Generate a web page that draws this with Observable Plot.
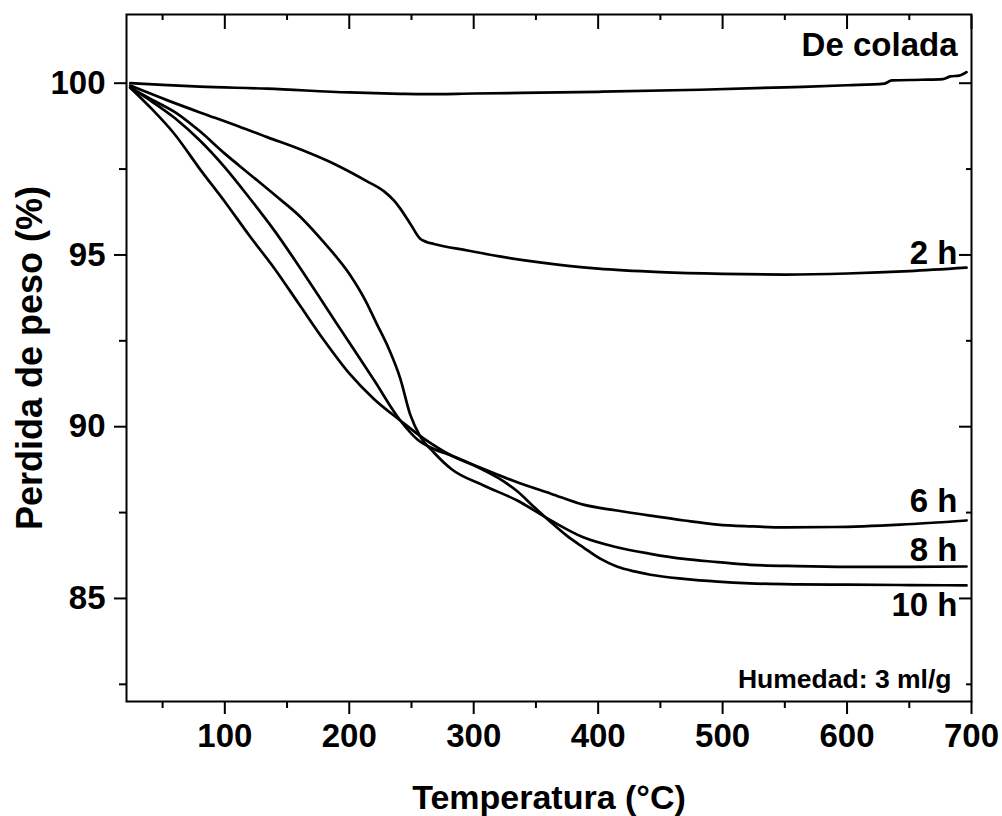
<!DOCTYPE html>
<html>
<head>
<meta charset="utf-8">
<script src="https://cdn.jsdelivr.net/npm/d3@7"></script>
<script src="https://cdn.jsdelivr.net/npm/@observablehq/plot@0.6"></script>
<style>
  html, body { margin: 0; padding: 0; background: #fff; }
  svg { display: block; }
</style>
</head>
<body>
<div id="chart"></div>
<script>
// ---- data (temperature °C, weight %) ----
const tCast = [24, 50, 80, 134, 200, 241, 260, 300, 400, 482, 550, 600, 630, 636, 660, 677, 683, 690, 696];
const wCast = [100.0, 99.95, 99.9, 99.84, 99.73, 99.69, 99.68, 99.7, 99.75, 99.81, 99.88, 99.94, 99.99, 100.08, 100.1, 100.12, 100.2, 100.22, 100.32];

const t2h = [24, 54, 80, 107, 134, 161, 188, 214, 228, 236, 241, 249, 257, 262, 268, 295, 322, 350, 400, 450, 500, 550, 600, 650, 696];
const w2h = [99.93, 99.5, 99.15, 98.8, 98.43, 98.07, 97.65, 97.15, 96.85, 96.58, 96.35, 95.91, 95.47, 95.38, 95.32, 95.13, 94.95, 94.8, 94.6, 94.5, 94.45, 94.43, 94.46, 94.53, 94.63];

const t6h = [24, 40, 60, 80, 100, 120, 140, 160, 180, 200, 220, 241, 260, 282, 308, 335, 362, 388, 415, 442, 469, 496, 522, 550, 590, 643, 696];
const w6h = [99.87, 99.3, 98.5, 97.5, 96.55, 95.55, 94.6, 93.55, 92.5, 91.55, 90.8, 90.18, 89.65, 89.16, 88.77, 88.38, 88.05, 87.73, 87.56, 87.41, 87.27, 87.15, 87.1, 87.07, 87.08, 87.15, 87.27];

const t8h = [24, 40, 62, 80, 100, 120, 140, 161, 180, 200, 213, 222, 232, 241, 249, 257, 268, 282, 308, 335, 362, 388, 415, 442, 469, 496, 522, 560, 600, 650, 696];
const w8h = [99.87, 99.55, 99.11, 98.6, 97.95, 97.35, 96.75, 96.1, 95.35, 94.45, 93.67, 93.0, 92.25, 91.4, 90.35, 89.72, 89.25, 88.77, 88.29, 87.85, 87.27, 86.78, 86.49, 86.3, 86.15, 86.06, 85.98, 85.94, 85.92, 85.92, 85.93];

const t10h = [24, 40, 60, 80, 100, 120, 140, 160, 180, 200, 220, 241, 255, 268, 282, 300, 320, 335, 348, 362, 375, 388, 402, 415, 430, 442, 469, 496, 522, 560, 600, 650, 696];
const w10h = [99.87, 99.5, 98.98, 98.33, 97.55, 96.65, 95.7, 94.65, 93.55, 92.45, 91.35, 90.18, 89.62, 89.35, 89.16, 88.88, 88.5, 88.12, 87.68, 87.22, 86.82, 86.49, 86.15, 85.93, 85.78, 85.69, 85.57, 85.49, 85.44, 85.41, 85.4, 85.39, 85.38];

const seriesNames = ["De colada", "2 h", "6 h", "8 h", "10 h"];
const xMajor = [100, 200, 300, 400, 500, 600, 700];
const xMinor = [50, 150, 250, 350, 450, 550, 650];
const yMajor = [85, 90, 95, 100];
const yMinor = [82.5, 87.5, 92.5, 97.5];
const noteText = "Humedad: 3 ml/g";
const xTitle = "Temperatura (°C)";
const yTitle = "Perdida de peso (%)";

// ---- build table ----
const temps = [tCast, t2h, t6h, t8h, t10h];
const weights = [wCast, w2h, w6h, w8h, w10h];
const rows = [];
seriesNames.forEach((name, i) => temps[i].forEach((t, j) => rows.push({series: name, t, w: weights[i][j]})));
const last = (name) => rows.filter(d => d.series === name).slice(-1);

const font = "'Liberation Sans', Arial, sans-serif";

const chart = Plot.plot({
  width: 1002,
  height: 816,
  marginLeft: 126,
  marginRight: 31,
  marginTop: 14,
  marginBottom: 115,
  style: {fontFamily: font, fontWeight: "bold", fontSize: "33px", background: "#fff", color: "#000"},
  x: {domain: [21, 700]},
  y: {domain: [82, 102]},
  marks: [
    // bottom axis
    Plot.axisX(xMajor, {anchor: "bottom", tickSize: 13, tickPadding: 9, strokeWidth: 2, fontSize: 33, fontWeight: "bold", label: null}),
    Plot.axisX(xMinor, {anchor: "bottom", tickSize: 7, strokeWidth: 2, tickFormat: () => "", label: null}),
    Plot.axisX({anchor: "bottom", ticks: [], label: xTitle, labelAnchor: "center", labelArrow: "none", labelOffset: 107, fontSize: 34, fontWeight: "bold"}),
    // top axis (inward)
    Plot.axisX(xMajor, {anchor: "top", tickSize: -14, strokeWidth: 2, tickFormat: () => "", label: null}),
    Plot.axisX(xMinor, {anchor: "top", tickSize: -5, strokeWidth: 2, tickFormat: () => "", label: null}),
    // left axis
    Plot.axisY(yMajor, {anchor: "left", tickSize: 12, tickPadding: 9, strokeWidth: 2, fontSize: 33, fontWeight: "bold", label: null}),
    Plot.axisY(yMinor, {anchor: "left", tickSize: 7, strokeWidth: 2, tickFormat: () => "", label: null}),
    Plot.axisY({anchor: "left", ticks: [], label: yTitle, labelAnchor: "center", labelArrow: "none", labelOffset: 110, fontSize: 36, fontWeight: "bold"}),
    // right axis (inward)
    Plot.axisY(yMajor, {anchor: "right", tickSize: -13, strokeWidth: 2, tickFormat: () => "", label: null}),
    Plot.axisY(yMinor, {anchor: "right", tickSize: -6, strokeWidth: 2, tickFormat: () => "", label: null}),
    Plot.frame({strokeWidth: 2}),
    // curves
    Plot.line(rows, {x: "t", y: "w", z: "series", stroke: "#000", strokeWidth: 2.7, curve: "monotone-x"}),
    // labels
    Plot.text(["De colada"], {frameAnchor: "top-right", dx: -14, dy: 18, lineAnchor: "top", textAnchor: "end", fontSize: 33, fontWeight: "bold"}),
    Plot.text(last("2 h"), {frameAnchor: "right", y: "w", text: "series", dx: -14, dy: -4, lineAnchor: "bottom", textAnchor: "end", fontSize: 33, fontWeight: "bold"}),
    Plot.text(last("6 h"), {frameAnchor: "right", y: "w", text: "series", dx: -14, dy: -8, lineAnchor: "bottom", textAnchor: "end", fontSize: 33, fontWeight: "bold"}),
    Plot.text(last("8 h"), {frameAnchor: "right", y: "w", text: "series", dx: -14, dy: -6, lineAnchor: "bottom", textAnchor: "end", fontSize: 33, fontWeight: "bold"}),
    Plot.text(last("10 h"), {frameAnchor: "right", y: "w", text: "series", dx: -14, dy: 31, lineAnchor: "bottom", textAnchor: "end", fontSize: 33, fontWeight: "bold"}),
    Plot.text([noteText], {frameAnchor: "bottom-right", dx: -20, dy: -14, lineAnchor: "bottom", textAnchor: "end", fontSize: 26.5, fontWeight: "bold"})
  ]
});
document.getElementById("chart").appendChild(chart);
</script>
</body>
</html>
